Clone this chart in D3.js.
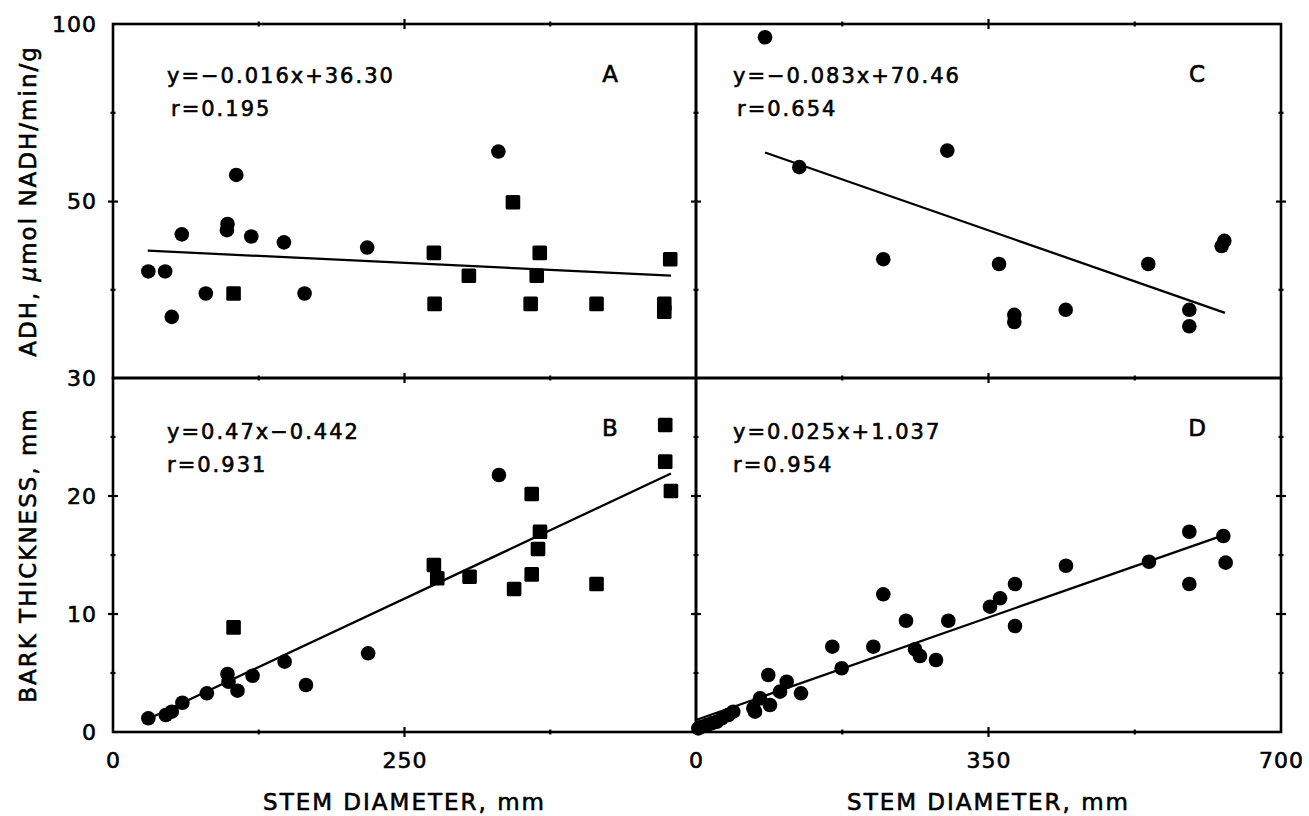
<!DOCTYPE html>
<html>
<head>
<meta charset="utf-8">
<script src="https://cdn.jsdelivr.net/npm/d3@7"></script>
<style>
  body { margin: 0; background: #fff; }
  svg { display: block; }
  text { font-family: "DejaVu Sans", sans-serif; fill: #000; stroke: #000; stroke-width: 0.6px; }
</style>
</head>
<body>
<script>
// ---- data (x = stem diameter, mm) ----
const adhCirclesA = [[30.3, 40.2], [44.7, 40.2], [50.4, 35.3], [59.0, 45.0], [79.6, 37.7], [105.7, 54.7],
  [97.7, 45.6], [98.2, 46.5], [118.6, 44.7], [146.6, 43.9], [164.3, 37.7], [218.0, 43.2], [330.5, 59.4]];
const adhSquaresA = [[103.4, 37.7], [275.2, 42.5], [275.8, 36.6], [305.2, 39.7], [343.0, 49.9], [366.0, 42.5],
  [363.4, 39.7], [358.2, 36.6], [414.7, 36.6], [477.9, 41.7], [472.8, 36.6], [472.8, 35.8]];
const fitA = [[29.8, 42.8], [478.5, 39.7]];

const barkCirclesB = [[30.3, 1.16], [45.3, 1.44], [50.4, 1.72], [59.5, 2.48], [80.5, 3.28], [98.2, 4.92],
  [99.1, 4.26], [106.8, 3.50], [119.7, 4.77], [147.2, 5.96], [165.5, 3.98], [218.8, 6.67], [331.0, 21.78]];
const barkSquaresB = [[103.4, 8.87], [275.2, 14.15], [278.1, 13.03], [305.8, 13.16], [344.0, 12.12], [359.1, 20.17],
  [366.2, 16.97], [364.5, 15.51], [359.1, 13.36], [414.7, 12.54], [473.6, 26.02], [473.6, 22.91], [478.5, 20.42]];
const fitB = [[30.0, 1.1], [478.5, 21.9]];

const adhCirclesC = [[82.6, 94.1], [123.6, 56.2], [300.7, 59.6], [224.1, 41.7], [362.6, 41.1], [380.9, 35.5],
  [380.9, 34.8], [442.4, 36.0], [541.2, 41.1], [590.3, 36.0], [590.3, 34.4], [632.2, 44.1], [629.0, 43.4]];
const fitC = [[82.6, 59.2], [633.0, 35.7]];

const barkCirclesD = [[2.8, 0.31], [6.8, 0.45], [12.8, 0.59], [18.8, 0.74], [24.8, 0.87], [30.8, 1.16],
  [38.6, 1.44], [44.6, 1.72], [68.6, 2.01], [70.6, 1.72], [76.6, 2.86], [86.5, 4.83], [88.5, 2.29],
  [100.5, 3.42], [108.5, 4.26], [125.6, 3.28], [163.1, 7.23], [174.3, 5.40], [212.2, 7.23], [224.1, 11.67],
  [251.3, 9.43], [262.1, 7.01], [268.0, 6.44], [287.2, 6.10], [301.9, 9.43], [351.8, 10.62], [363.8, 11.33],
  [381.7, 12.54], [381.7, 8.98], [442.7, 14.09], [542.0, 14.43], [590.3, 16.97], [590.3, 12.54],
  [631.0, 16.61], [633.8, 14.35]];
const fitD = [[0, 1.02], [623.8, 16.5]];

const xTicksLeft = [0, 250];
const xTicksRight = [0, 350, 700];
const adhTicks = [30, 50, 100];
const barkTicks = [0, 10, 20, 30];
const equations = ["y=\u22120.016x+36.30", "y=0.47x\u22120.442", "y=\u22120.083x+70.46", "y=0.025x+1.037"];
const rValues = ["r=0.195", "r=0.931", "r=0.654", "r=0.954"];
const panelLetters = ["A", "B", "C", "D"];

// ---- layout ----
const pLeft = 113, pMid = 696, pRight = 1281, pTop = 24, pMidY = 378, pBottom = 732;

const svg = d3.select("body").append("svg").attr("width", 1309).attr("height", 816);

const xLeft = d3.scaleLinear().domain([0, 500]).range([pLeft, pMid]);
const xRight = d3.scaleLinear().domain([0, 700]).range([pMid, pRight]);
const yAdh = d3.scalePow().exponent(-0.5).domain([30, 100]).range([pMidY, pTop]);
const yBark = d3.scaleLinear().domain([0, 30]).range([pBottom, pMidY]);

const panels = [
  { x: xLeft, y: yAdh, circles: adhCirclesA, squares: adhSquaresA, fit: fitA },
  { x: xLeft, y: yBark, circles: barkCirclesB, squares: barkSquaresB, fit: fitB },
  { x: xRight, y: yAdh, circles: adhCirclesC, squares: [], fit: fitC },
  { x: xRight, y: yBark, circles: barkCirclesD, squares: [], fit: fitD }
];

// frames
panels.forEach(p => {
  const [x0, x1] = p.x.range(), [y1, y0] = p.y.range();
  svg.append("rect")
    .attr("x", x0).attr("y", y0)
    .attr("width", x1 - x0).attr("height", y1 - y0)
    .attr("fill", "none").attr("stroke", "#000").attr("stroke-width", 2.6);
});

// small ticks crossing every frame edge
const tickG = svg.append("g").attr("stroke", "#000").attr("stroke-width", 2.2);
const hTicks = (scale, vals, half) => {
  [pTop, pMidY, pBottom].forEach(yy => {
    vals.forEach(v => {
      tickG.append("line")
        .attr("x1", scale(v)).attr("x2", scale(v))
        .attr("y1", yy - half).attr("y2", yy + half);
    });
  });
};
const vTicks = (scale, vals, half) => {
  [pLeft, pMid, pRight].forEach(xx => {
    vals.forEach(v => {
      tickG.append("line")
        .attr("x1", xx - half).attr("x2", xx + half)
        .attr("y1", scale(v)).attr("y2", scale(v));
    });
  });
};
hTicks(xLeft, [250], 5);
hTicks(xLeft, [125, 375], 2.5);
hTicks(xRight, [350], 5);
hTicks(xRight, [175, 525], 2.5);
const adhMinor = [yAdh.invert((yAdh(30) + yAdh(50)) / 2), yAdh.invert((yAdh(50) + yAdh(100)) / 2)];
vTicks(yAdh, [50], 5);
vTicks(yAdh, adhMinor, 2.5);
vTicks(yBark, [10, 20], 5);
vTicks(yBark, [5, 15, 25], 2.5);

// axis labels
const styleAxis = g => {
  g.select(".domain").remove();
  g.attr("font-family", "DejaVu Sans").attr("font-size", 22);
  g.selectAll("text").attr("letter-spacing", 1);
};
svg.append("g").attr("transform", `translate(${pLeft},0)`)
  .call(d3.axisLeft(yAdh).tickValues(adhTicks).tickFormat(d3.format("d")).tickSize(0).tickPadding(16))
  .call(styleAxis);
svg.append("g").attr("transform", `translate(${pLeft},0)`)
  .call(d3.axisLeft(yBark).tickValues(barkTicks.slice(0, 3)).tickSize(0).tickPadding(16))
  .call(styleAxis);
svg.append("g").attr("transform", `translate(0,${pBottom})`)
  .call(d3.axisBottom(xLeft).tickValues(xTicksLeft).tickSize(0).tickPadding(20))
  .call(styleAxis);
svg.append("g").attr("transform", `translate(0,${pBottom})`)
  .call(d3.axisBottom(xRight).tickValues(xTicksRight).tickSize(0).tickPadding(20))
  .call(styleAxis);

const title = (x, y, rot, txt) => svg.append("text")
  .attr("transform", `translate(${x},${y}) rotate(${rot})`)
  .attr("text-anchor", "middle").attr("font-size", 23).attr("letter-spacing", 2)
  .text(txt);
title((pLeft + pMid) / 2, 810, 0, "STEM DIAMETER, mm");
title((pMid + pRight) / 2, 810, 0, "STEM DIAMETER, mm");
title(36, (pBottom + pMidY) / 2, -90, "BARK THICKNESS, mm");
const adhLabel = svg.append("text")
  .attr("transform", `translate(36,${(pTop + pMidY) / 2}) rotate(-90)`)
  .attr("text-anchor", "middle").attr("font-size", 23).attr("letter-spacing", 2);
adhLabel.append("tspan").text("ADH, ");
adhLabel.append("tspan").attr("font-style", "italic").text("\u03bc");
adhLabel.append("tspan").text("mol NADH/min/g");

// points and fitted lines
const line = d3.line();
panels.forEach((p, i) => {
  const g = svg.append("g");
  g.selectAll("circle").data(p.circles).join("circle")
    .attr("cx", d => p.x(d[0])).attr("cy", d => p.y(d[1])).attr("r", 7.3)
    .attr("fill", "#000");
  g.selectAll("rect").data(p.squares).join("rect")
    .attr("x", d => p.x(d[0]) - 7.3).attr("y", d => p.y(d[1]) - 7.3)
    .attr("width", 14.6).attr("height", 14.6).attr("rx", 1.5)
    .attr("fill", "#000");
  g.append("path")
    .attr("d", line(p.fit.map(d => [p.x(d[0]), p.y(d[1])])))
    .attr("fill", "none").attr("stroke", "#000").attr("stroke-width", 2.3);

  const x0 = p.x.range()[0], y0 = p.y.range()[1];
  const dx = i < 2 ? 54 : 37;
  const dy = i % 2 === 0 ? 0 : 2;
  g.append("text").attr("x", x0 + dx).attr("y", y0 + 59 + dy)
    .attr("font-size", 21).attr("letter-spacing", 2).text(equations[i]);
  g.append("text").attr("x", x0 + dx + (i % 2 === 0 ? 4 : 0)).attr("y", y0 + 92 + dy)
    .attr("font-size", 21).attr("letter-spacing", 2).text(rValues[i]);
  g.append("text").attr("x", x0 + (i < 2 ? 497 : 501)).attr("y", y0 + 58)
    .attr("text-anchor", "middle").attr("font-size", 23).text(panelLetters[i]);
});
</script>
</body>
</html>
